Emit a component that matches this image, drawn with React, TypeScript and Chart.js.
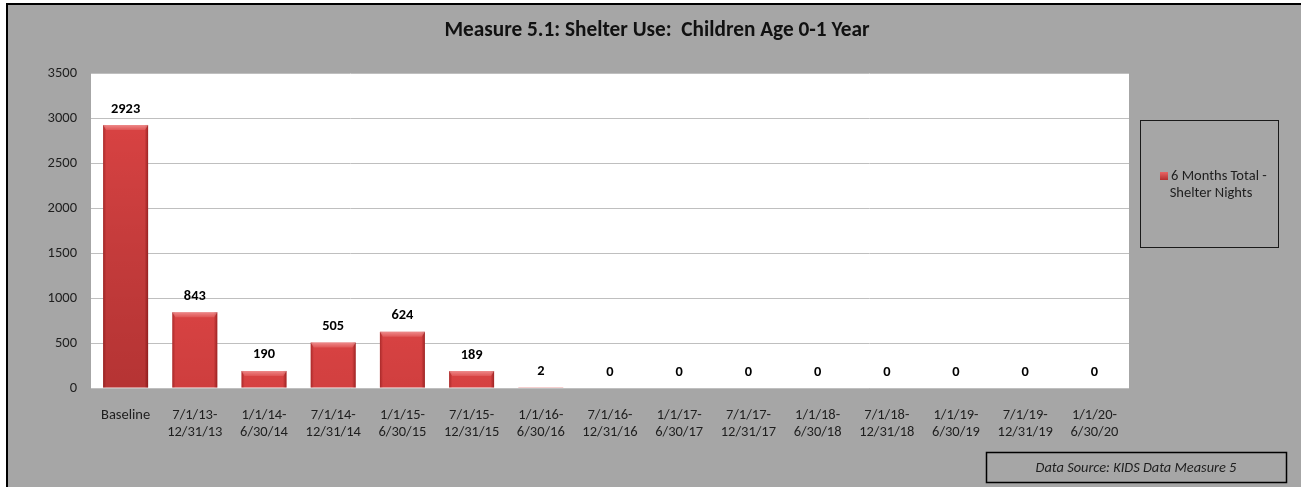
import React, { useEffect, useRef } from "react";
import { Chart, registerables } from "chart.js";

Chart.register(...registerables);

// Reporting periods (two-line axis labels)
const periods: string[][] = [
  ["Baseline"],
  ["7/1/13-", "12/31/13"],
  ["1/1/14-", "6/30/14"],
  ["7/1/14-", "12/31/14"],
  ["1/1/15-", "6/30/15"],
  ["7/1/15-", "12/31/15"],
  ["1/1/16-", "6/30/16"],
  ["7/1/16-", "12/31/16"],
  ["1/1/17-", "6/30/17"],
  ["7/1/17-", "12/31/17"],
  ["1/1/18-", "6/30/18"],
  ["7/1/18-", "12/31/18"],
  ["1/1/19-", "6/30/19"],
  ["7/1/19-", "12/31/19"],
  ["1/1/20-", "6/30/20"],
];

// Shelter nights for children age 0-1, per six-month period
const shelterNights: number[] = [2923, 843, 190, 505, 624, 189, 2, 0, 0, 0, 0, 0, 0, 0, 0];

const yTicks: number[] = [0, 500, 1000, 1500, 2000, 2500, 3000, 3500];

const seriesName = "6 Months Total - Shelter Nights";
const legendLines: string[] = ["6 Months Total -", "Shelter Nights"];
const chartTitle = "Measure 5.1: Shelter Use:  Children Age 0-1 Year";
const sourceNote = "Data Source: KIDS Data Measure 5";

const FONT = "Carlito, Calibri, Lato, 'Open Sans', sans-serif";
const PAGE_W = 1301;
const PAGE_H = 487;

// Background, frame, plot area, title, legend box and source note
const framePlugin = {
  id: "frame",
  beforeDraw(chart: any) {
    const { ctx, chartArea } = chart;
    ctx.save();
    ctx.fillStyle = "#ffffff";
    ctx.fillRect(0, 0, PAGE_W, PAGE_H);
    ctx.fillStyle = "#a6a6a6";
    ctx.fillRect(7, 4, PAGE_W - 7, PAGE_H - 4);
    // plot area
    ctx.fillStyle = "#ffffff";
    ctx.fillRect(chartArea.left, chartArea.top, chartArea.right - chartArea.left, chartArea.bottom - chartArea.top);
    // outer frame
    ctx.fillStyle = "#000000";
    ctx.fillRect(6, 3, PAGE_W - 6, 2);
    ctx.fillRect(6, 3, 2, PAGE_H - 3);
    ctx.restore();
  },
  afterDraw(chart: any) {
    const { ctx } = chart;
    ctx.save();
    // title
    ctx.fillStyle = "#111111";
    ctx.font = `bold 21.3px ${FONT}`;
    ctx.textAlign = "center";
    ctx.textBaseline = "middle";
    ctx.fillText(chartTitle, 657, 31);

    // legend box
    ctx.strokeStyle = "#1a1a1a";
    ctx.lineWidth = 1;
    ctx.strokeRect(1140.5, 120.5, 138, 127);
    const g = ctx.createLinearGradient(0, 172, 0, 180);
    g.addColorStop(0, "#e86464");
    g.addColorStop(1, "#b32f2f");
    ctx.fillStyle = g;
    ctx.fillRect(1160, 172, 8, 8);
    ctx.fillStyle = "#1e1e1e";
    ctx.font = `14.5px ${FONT}`;
    ctx.textAlign = "left";
    ctx.fillText(legendLines[0], 1171, 176.5);
    ctx.textAlign = "center";
    ctx.fillText(legendLines[1], 1211, 193);

    // source note box
    ctx.strokeStyle = "#000000";
    ctx.lineWidth = 1.5;
    ctx.strokeRect(986.5, 452.5, 300, 30);
    ctx.fillStyle = "#1e1e1e";
    ctx.font = `italic 14.4px ${FONT}`;
    ctx.textAlign = "center";
    ctx.fillText(sourceNote, 1136, 468);
    ctx.restore();
  },
};

// Bevel shading and value labels on each bar
const barDecorPlugin = {
  id: "barDecor",
  afterDatasetsDraw(chart: any) {
    const { ctx } = chart;
    const meta = chart.getDatasetMeta(0);
    const values = chart.data.datasets[0].data as number[];
    ctx.save();
    meta.data.forEach((bar: any, i: number) => {
      const { x, y, base, width } = bar;
      const left = x - width / 2;
      const right = x + width / 2;
      const h = base - y;
      if (h > 2) {
        const depth = Math.min(1, h / 260);
        const vg = ctx.createLinearGradient(0, y, 0, base);
        vg.addColorStop(0, "rgba(0,0,0,0)");
        vg.addColorStop(1, `rgba(60,0,0,${0.22 * depth})`);
        ctx.fillStyle = vg;
        ctx.fillRect(left, y, width, h);
        // side edges
        const lg = ctx.createLinearGradient(left, 0, right, 0);
        lg.addColorStop(0, "rgba(90,0,0,0.35)");
        lg.addColorStop(0.07, "rgba(90,0,0,0.0)");
        lg.addColorStop(0.92, "rgba(90,0,0,0.0)");
        lg.addColorStop(1, "rgba(90,0,0,0.45)");
        ctx.fillStyle = lg;
        ctx.fillRect(left, y, width, h);
        // top bevel
        const b = Math.min(5, h / 2);
        ctx.beginPath();
        ctx.moveTo(left, y);
        ctx.lineTo(right, y);
        ctx.lineTo(right - 3, y + b);
        ctx.lineTo(left + 3, y + b);
        ctx.closePath();
        const tg = ctx.createLinearGradient(0, y, 0, y + b);
        tg.addColorStop(0, "rgba(255,200,200,0.55)");
        tg.addColorStop(1, "rgba(255,170,170,0.2)");
        ctx.fillStyle = tg;
        ctx.fill();
      }
      ctx.fillStyle = "#000000";
      ctx.font = `bold 14.4px ${FONT}`;
      ctx.textAlign = "center";
      ctx.textBaseline = "middle";
      ctx.fillText(String(values[i]), x, y - 16);
    });
    ctx.restore();
  },
};

export default function App() {
  const canvasRef = useRef<HTMLCanvasElement | null>(null);

  useEffect(() => {
    const canvas = canvasRef.current;
    if (!canvas) return;
    const chart = new Chart(canvas, {
      type: "bar",
      data: {
        labels: periods,
        datasets: [
          {
            label: seriesName,
            data: shelterNights,
            backgroundColor: "#d84242",
            borderWidth: 0,
            categoryPercentage: 1,
            barPercentage: 0.65,
          },
        ],
      },
      options: {
        responsive: false,
        animation: false,
        events: [],
        layout: { padding: { top: 73, right: 172, left: 0, bottom: 0 } },
        plugins: {
          legend: { display: false },
          title: { display: false },
          tooltip: { enabled: false },
        },
        scales: {
          x: {
            grid: { display: false },
            border: { display: false },
            ticks: {
              color: "#1e1e1e",
              font: { family: FONT, size: 14.5, lineHeight: 1.17 },
              padding: 10.5,
              maxRotation: 0,
              autoSkip: false,
            },
            afterFit(scale: any) {
              scale.height = 99;
            },
          },
          y: {
            min: 0,
            max: 3500,
            grid: { color: "#bfbfbf", lineWidth: 1, drawTicks: false },
            border: { display: false },
            ticks: {
              color: "#1e1e1e",
              font: { family: FONT, size: 14.5 },
              padding: 14,
              callback: (v: any) => String(v),
            },
            afterBuildTicks(scale: any) {
              scale.ticks = yTicks.map((v) => ({ value: v }));
            },
            afterFit(scale: any) {
              scale.width = 91;
            },
          },
        },
      },
      plugins: [framePlugin, barDecorPlugin],
    });
    return () => chart.destroy();
  }, []);

  return (
    <div style={{ position: "fixed", left: 0, top: 0, width: PAGE_W, height: PAGE_H }}>
      <canvas ref={canvasRef} width={PAGE_W} height={PAGE_H} style={{ display: "block" }} />
    </div>
  );
}
